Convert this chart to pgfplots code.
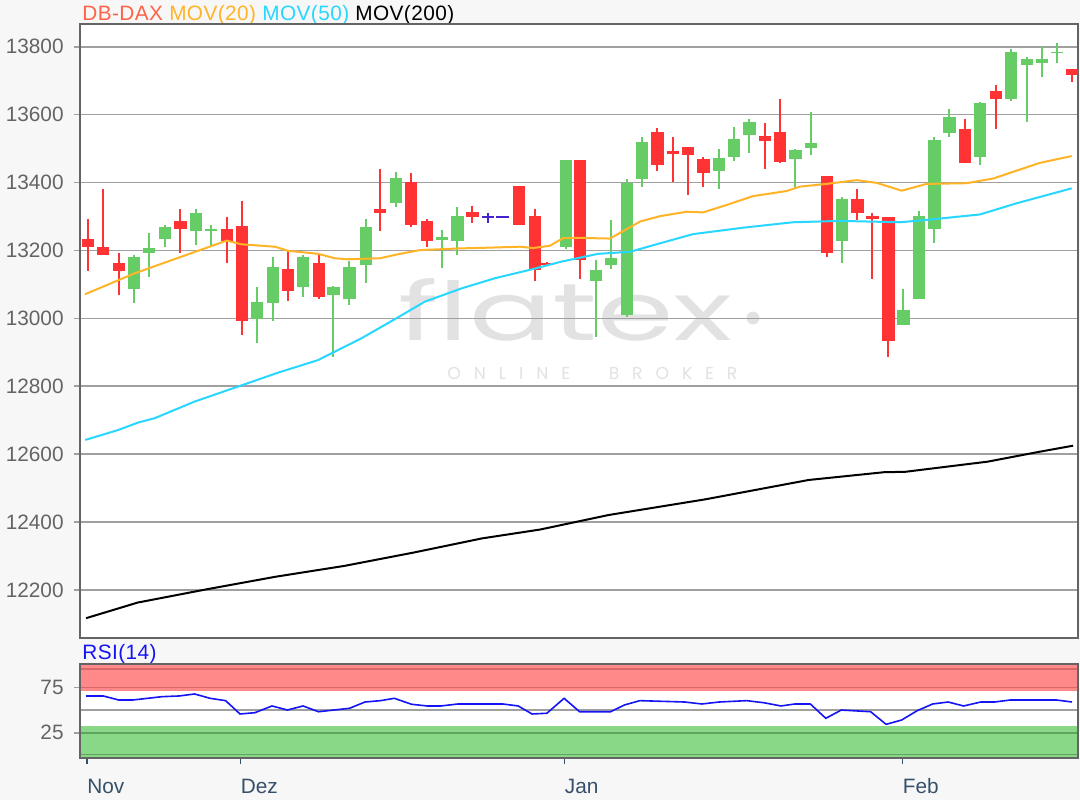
\documentclass[border=0pt]{standalone}
\usepackage{pgfplots}
\pgfplotsset{compat=1.18}
\usepackage{pgfplotstable}
\usepackage{fontspec}
\setmainfont{Liberation Sans}
\newfontfamily\titlefont[LetterSpace=2]{Liberation Sans}
\newfontfamily\wmfont{Poppins}

\definecolor{bg}{RGB}{247,247,247}
\definecolor{cgreen}{RGB}{102,204,102}
\definecolor{cred}{RGB}{255,51,51}
\definecolor{cblue}{RGB}{68,34,204}
\definecolor{ma20}{RGB}{255,180,40}
\definecolor{ma50}{RGB}{40,215,255}
\definecolor{dbred}{RGB}{255,99,71}
\definecolor{gridc}{RGB}{160,160,160}
\definecolor{framec}{RGB}{100,100,100}
\definecolor{labc}{RGB}{100,100,100}
\definecolor{xlabc}{RGB}{55,80,105}
\definecolor{rsired}{RGB}{255,136,136}
\definecolor{rsireddk}{RGB}{215,105,105}
\definecolor{rsigreen}{RGB}{136,216,136}
\definecolor{rsigreendk}{RGB}{95,165,95}
\definecolor{wm}{RGB}{226,226,226}
\definecolor{rsiblue}{RGB}{20,20,245}

% candles: x position, open, high, low, close
\pgfplotstableread{
x o h l c
88.3 13233 13292 13139 13209
103.3 13209 13380 13186 13186
119 13162 13192 13068 13139
180.3 13286 13321 13192 13263
226.7 13262 13298 13162 13227
241.7 13273 13345 12951 12992
287.7 13144 13199 13051 13081
319 13162 13186 13057 13064
380 13321 13439 13257 13311
411 13402 13427 13268 13274
426.7 13286 13292 13211 13229
472.3 13314 13331 13280 13298
519 13390 13390 13275 13275
535 13302 13321 13110 13142
547.3 13163 13165 13157 13157
580 13466 13466 13115 13172
657.3 13550 13561 13435 13452
672.7 13492 13533 13402 13484
687.7 13504 13504 13363 13481
703.3 13468 13474 13386 13427
764.7 13538 13574 13439 13522
780 13550 13645 13457 13461
826.7 13419 13419 13182 13192
857.3 13351 13380 13290 13311
872.3 13302 13309 13115 13292
888.3 13298 13298 12887 12933
965 13557 13586 13457 13457
995.7 13670 13687 13557 13646
1071.7 13733 13733 13697 13717
}\redtab

\pgfplotstableread{
x o h l c
134 13087 13186 13044 13180
149 13193 13250 13123 13208
165 13235 13275 13209 13268
195.7 13258 13321 13216 13309
210.7 13256 13275 13211 13262
257 12998 13091 12927 13049
272.7 13044 13180 12992 13150
303 13093 13186 13064 13180
333.3 13069 13096 12887 13091
349.3 13056 13169 13039 13150
365.7 13157 13292 13103 13268
396 13341 13432 13327 13414
441.7 13231 13260 13147 13239
457.3 13229 13327 13187 13302
566 13211 13466 13203 13466
595.7 13111 13172 12946 13142
611 13157 13290 13144 13179
626.7 13010 13410 13003 13400
641.7 13410 13533 13386 13520
719 13434 13498 13380 13473
734 13474 13563 13463 13527
749.3 13540 13586 13486 13579
795.3 13468 13498 13383 13496
810.7 13501 13609 13481 13515
841.7 13229 13357 13162 13351
903.3 12980 13086 12980 13025
919 13057 13315 13057 13301
934.3 13263 13533 13221 13525
949.3 13547 13616 13533 13592
980 13476 13638 13452 13633
1011 13646 13792 13640 13785
1026.7 13746 13769 13579 13763
1041.7 13751 13802 13710 13763
1056.7 13781 13810 13751 13785
}\greentab

\pgfplotstableread{
x o h l c
487.7 13298 13309 13282 13298
502.5 13298 13298 13298 13298
}\bluetab

\pgfplotsset{
  wick/.style={forget plot, draw=none, mark=none,
    error bars/.cd, y dir=both, y explicit, error mark=none,
    error bar style={draw=#1, line width=0.85pt}},
  body/.style={forget plot, draw=none, mark=none,
    error bars/.cd, y dir=both, y explicit, error mark=none,
    error bar style={draw=#1, line width=6.2pt}},
}

\begin{document}
\begin{tikzpicture}
\useasboundingbox (0,0) rectangle (540pt,400pt);
\fill[bg] (0,0) rectangle (540pt,400pt);
\fill[white] (40pt,81pt) rectangle (539pt,388pt);
\fill[white] (40pt,21pt) rectangle (539pt,68pt);

% watermark
\node[anchor=base west, inner sep=0pt, text=wm] at (199pt,230pt)
  {\resizebox{167pt}{31pt}{\wmfont flatex}};
\fill[wm] (376.5pt,241pt) circle (3.2pt);
\node[anchor=west, inner sep=0pt, text=wm] at (223.5pt,213.5pt)
  {\fontsize{8.6}{10}\wmfont\makebox[145pt][s]{O\hfill N\hfill L\hfill I\hfill N\hfill E\hfill\hfill\hfill B\hfill R\hfill O\hfill K\hfill E\hfill R}};

% title
\node[anchor=base west, inner sep=0pt] at (41pt,389.6pt)
  {\fontsize{10.4}{12}\titlefont\textcolor{dbred}{DB-DAX} \textcolor{ma20}{MOV(20)} \textcolor{ma50}{MOV(50)} \textcolor{black}{MOV(200)}};
\node[anchor=base west, inner sep=0pt] at (41pt,70.5pt)
  {\fontsize{10.4}{12}\titlefont\textcolor{rsiblue}{RSI(14)}};

\begin{axis}[
  at={(40pt,81pt)}, anchor=south west,
  width=499pt, height=307pt, scale only axis,
  xmin=80, xmax=1078, ymin=12058.6, ymax=13866.9,
  scaled ticks=false,
  xtick=\empty,
  ytick={12200,12400,12600,12800,13000,13200,13400,13600,13800},
  yticklabels={12200,12400,12600,12800,13000,13200,13400,13600,13800},
  ytick pos=left, tick align=outside, major tick length=3pt,
  ymajorgrids, grid style={draw=gridc, line width=0.8pt},
  y tick style={draw=gridc, line width=0.8pt},
  axis line style={draw=framec, line width=1pt},
  yticklabel style={font=\fontsize{10.4}{12}\selectfont, text=labc, inner sep=0pt, anchor=east, xshift=-5pt},
  clip=true,
]
% wicks
\addplot[wick=cred] table[x=x, y expr={(\thisrow{h}+\thisrow{l})/2}, y error expr={(\thisrow{h}-\thisrow{l})/2}] {\redtab};
\addplot[wick=cgreen] table[x=x, y expr={(\thisrow{h}+\thisrow{l})/2}, y error expr={(\thisrow{h}-\thisrow{l})/2}] {\greentab};
\addplot[wick=cblue] table[x=x, y expr={(\thisrow{h}+\thisrow{l})/2}, y error expr={(\thisrow{h}-\thisrow{l})/2}] {\bluetab};
% bodies
\addplot[body=cred] table[x=x, y expr={(\thisrow{o}+\thisrow{c})/2}, y error expr={max(abs(\thisrow{o}-\thisrow{c})/2,2.5)}] {\redtab};
\addplot[body=cgreen] table[x=x, y expr={(\thisrow{o}+\thisrow{c})/2}, y error expr={max(abs(\thisrow{o}-\thisrow{c})/2,2.5)}] {\greentab};
\addplot[body=cblue] table[x=x, y expr={(\thisrow{o}+\thisrow{c})/2}, y error expr={max(abs(\thisrow{o}-\thisrow{c})/2,2.5)}] {\bluetab};

% MOV(200)
\addplot[black, line width=1pt, mark=none] coordinates {
(86.1,12117) (137.7,12163) (206.6,12202) (275.5,12239) (344.4,12271) (413.2,12310)
(482.1,12352) (540,12378) (608.9,12421) (705.3,12467) (808.6,12524) (884.4,12547)
(905,12548) (987.7,12578) (1039.3,12607) (1073.1,12625)};
% MOV(50)
\addplot[ma50, line width=1pt, mark=none] coordinates {
(85.3,12642) (118,12671) (138,12693) (154.7,12706) (194.7,12755) (238,12799)
(278,12840) (318,12877) (361.3,12941) (398,13003) (424.7,13049) (461.3,13088)
(494.7,13118) (531.3,13144) (561.3,13167) (598,13190) (630,13196) (660,13221)
(693,13248) (743,13267) (793,13283) (840,13287) (900,13283) (926.7,13290)
(980,13306) (1016.7,13339) (1071.7,13383)};
% MOV(20)
\addplot[ma20, line width=1pt, mark=none] coordinates {
(85,13071) (135,13133) (226.7,13229) (241.7,13218) (275,13211) (288,13199)
(318,13190) (335,13177) (346.7,13174) (380,13177) (400,13190) (420,13201)
(460,13206) (486.7,13208) (520,13211) (533,13207) (550,13214) (563,13236)
(580,13237) (610,13235) (640,13285) (660,13301) (686.7,13314) (703,13312)
(726.7,13334) (753,13360) (786.7,13375) (800,13388) (826.7,13396) (856.7,13407)
(876.7,13399) (901.7,13376) (926.7,13396) (966.7,13398) (993.3,13412)
(1040,13458) (1071.7,13478)};
\end{axis}

\begin{axis}[
  at={(40pt,21pt)}, anchor=south west,
  width=499pt, height=47pt, scale only axis,
  xmin=80, xmax=1078, ymin=-3.1, ymax=101.3,
  scaled ticks=false,
  xtick={87,240.5,564.5,902.5}, xticklabels={Nov,Dez,Jan,Feb},
  xtick pos=bottom,
  ytick={25,75}, yticklabels={25,75}, ytick pos=left,
  tick align=outside, major tick length=3pt,
  x tick style={draw=xlabc, line width=0.8pt},
  y tick style={draw=gridc, line width=0.8pt},
  axis line style={draw=framec, line width=1pt},
  yticklabel style={font=\fontsize{10.4}{12}\selectfont, text=labc, inner sep=0pt, anchor=east, xshift=-5pt},
  xticklabel style={font=\fontsize{10.4}{12}\selectfont, text=xlabc, inner sep=0pt, anchor=west, yshift=-11pt},
  axis on top,
]
\fill[rsired] (axis cs:80,71.5) rectangle (axis cs:1078,101.3);
\fill[rsigreen] (axis cs:80,-3.1) rectangle (axis cs:1078,32.5);
\draw[rsireddk, line width=0.8pt] (axis cs:80,95.5) -- (axis cs:1078,95.5);
\draw[rsireddk, line width=0.8pt] (axis cs:80,75) -- (axis cs:1078,75);
\draw[gridc, line width=0.8pt] (axis cs:80,50) -- (axis cs:1078,50);
\draw[rsigreendk, line width=0.8pt] (axis cs:80,25) -- (axis cs:1078,25);
\draw[rsigreendk, line width=0.8pt] (axis cs:80,1) -- (axis cs:1078,1);
\addplot[rsiblue, line width=0.8pt, mark=none] coordinates {
(86.1,65.8) (103.3,65.8) (118.8,61.3) (132.6,61.3) (161.8,65) (179.1,65.8)
(194.6,68) (210.1,63.2) (225.6,60.6) (240,45.8) (254.8,47.2) (272,54.7)
(287.5,50.2) (303,54.7) (318.5,48.3) (334,50.2) (349.5,52.1) (365,59.1)
(380.5,60.6) (394.3,63.2) (411.5,56.6) (427,54.7) (440.8,54.7) (458,56.9)
(502.8,56.9) (518.2,54.7) (532,45.8) (546.9,46.6) (564.1,63.2) (579.6,48.3)
(610.6,48.3) (624.4,55.8) (639.9,60.6) (684.6,59.1) (701.8,56.9) (719.1,59.1)
(746.6,60.6) (763.8,58.3) (781,54.7) (794.8,56.9) (810.3,56.9) (825.8,41)
(841.3,50.2) (870.6,48.3) (886.1,34.3) (901.6,39.1) (917.1,49.4) (932.6,56.9)
(948.1,59.1) (963.6,54.7) (980.8,59.1) (994.6,59.1) (1010,61.3) (1056.5,61.3)
(1072,59.1)};
\end{axis}
\end{tikzpicture}
\end{document}
